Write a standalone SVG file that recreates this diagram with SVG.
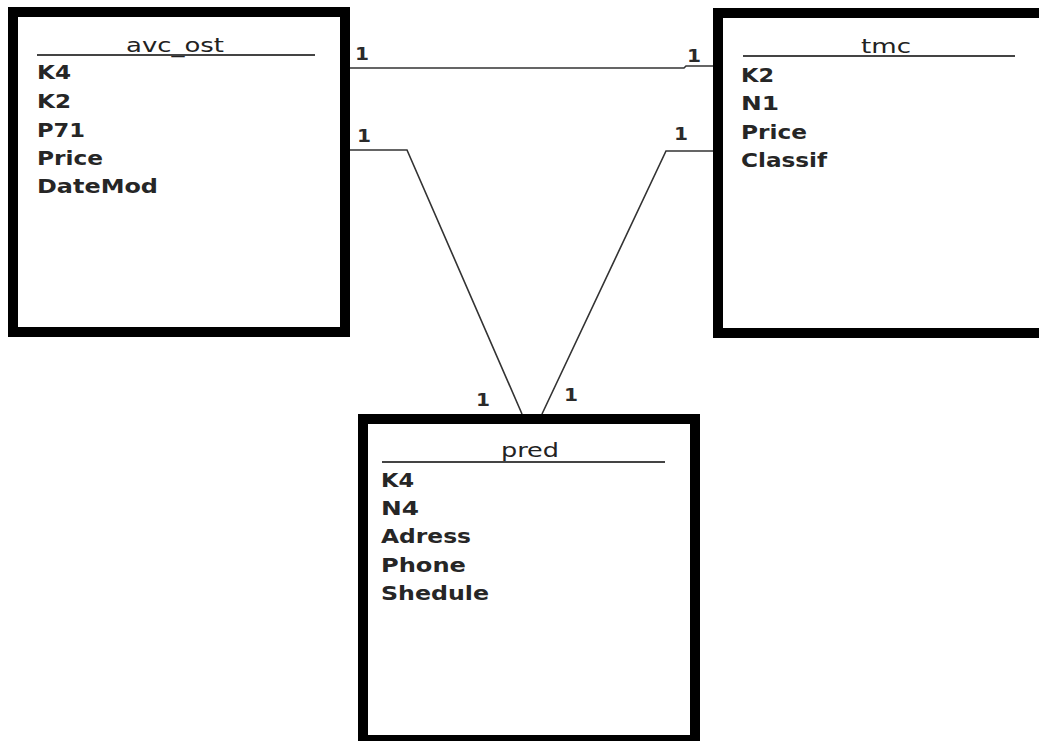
<svg xmlns="http://www.w3.org/2000/svg" width="1039" height="741" viewBox="0 0 1039 741">
<style>
.box{fill:#fff;stroke:#000;stroke-width:10}
.hdr{stroke:#444;stroke-width:2.2}
.title{font-family:"DejaVu Sans","Liberation Sans",sans-serif;font-size:20px;fill:#222;text-anchor:middle}
.fld{font-family:"DejaVu Sans","Liberation Sans",sans-serif;font-size:20px;font-weight:bold;fill:#262626}
.card{font-family:"DejaVu Sans","Liberation Sans",sans-serif;font-size:18.5px;font-weight:bold;fill:#2a2a2a}
.conn{fill:none;stroke:#333;stroke-width:1.6}
</style>
<rect width="1039" height="741" fill="#fff"/>
<g id="connectors">
<polyline class="conn" points="350,68 684,68 686,66 713,66"/>
<polyline class="conn" points="350,150 407,150 522,414"/>
<polyline class="conn" points="713,151 666,151 542,414"/>
<text class="card" x="355" y="60" textLength="14" lengthAdjust="spacingAndGlyphs">1</text>
<text class="card" x="687" y="61.5" textLength="14" lengthAdjust="spacingAndGlyphs">1</text>
<text class="card" x="357" y="142" textLength="14" lengthAdjust="spacingAndGlyphs">1</text>
<text class="card" x="674" y="139.5" textLength="14" lengthAdjust="spacingAndGlyphs">1</text>
<text class="card" x="476" y="405.5" textLength="14" lengthAdjust="spacingAndGlyphs">1</text>
<text class="card" x="564" y="401" textLength="14" lengthAdjust="spacingAndGlyphs">1</text>
</g>
<g id="avc_ost">
<rect class="box" x="13" y="12" width="332" height="320"/>
<text class="title" x="175" y="52" textLength="98" lengthAdjust="spacingAndGlyphs">avc<tspan dy="0.5">_</tspan><tspan dy="-0.5">ost</tspan></text>
<line class="hdr" x1="37" y1="55" x2="315" y2="55"/>
<text class="fld" x="37" y="79" textLength="34" lengthAdjust="spacingAndGlyphs">K4</text>
<text class="fld" x="37" y="107.5" textLength="34" lengthAdjust="spacingAndGlyphs">K2</text>
<text class="fld" x="37" y="136.5" textLength="48" lengthAdjust="spacingAndGlyphs">P71</text>
<text class="fld" x="37" y="165" textLength="66" lengthAdjust="spacingAndGlyphs">Price</text>
<text class="fld" x="37" y="193" textLength="121" lengthAdjust="spacingAndGlyphs">DateMod</text>
</g>
<g id="tmc">
<rect class="box" x="718" y="13" width="340" height="320"/>
<line class="hdr" x1="743" y1="56" x2="1015" y2="56"/>
<text class="title" x="886" y="53" textLength="50" lengthAdjust="spacingAndGlyphs">tmc</text>
<text class="fld" x="741" y="82" textLength="33" lengthAdjust="spacingAndGlyphs">K2</text>
<text class="fld" x="741" y="110" textLength="38" lengthAdjust="spacingAndGlyphs">N1</text>
<text class="fld" x="741" y="138.5" textLength="66" lengthAdjust="spacingAndGlyphs">Price</text>
<text class="fld" x="741" y="167" textLength="86" lengthAdjust="spacingAndGlyphs">Classif</text>
</g>
<g id="pred">
<rect class="box" x="363" y="419" width="332" height="321"/>
<line class="hdr" x1="382" y1="462" x2="665" y2="462"/>
<text class="title" x="530" y="457" textLength="58" lengthAdjust="spacingAndGlyphs">pred</text>
<text class="fld" x="381" y="487" textLength="33" lengthAdjust="spacingAndGlyphs">K4</text>
<text class="fld" x="381" y="515" textLength="38" lengthAdjust="spacingAndGlyphs">N4</text>
<text class="fld" x="381" y="543" textLength="90" lengthAdjust="spacingAndGlyphs">Adress</text>
<text class="fld" x="381" y="572" textLength="85" lengthAdjust="spacingAndGlyphs">Phone</text>
<text class="fld" x="381" y="600" textLength="108" lengthAdjust="spacingAndGlyphs">Shedule</text>
</g>
</svg>
